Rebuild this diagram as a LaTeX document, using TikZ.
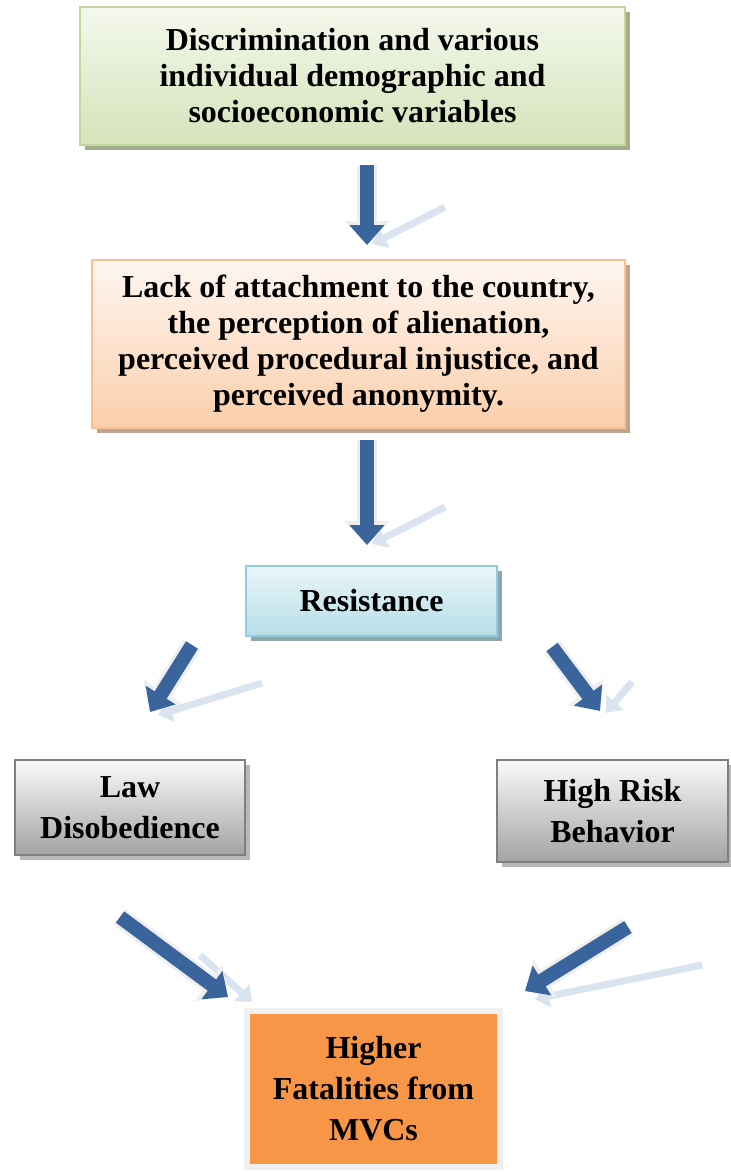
\documentclass[tikz,border=0pt]{standalone}
\usepackage{fontspec}
\setmainfont{Liberation Serif}
\usetikzlibrary{arrows.meta}
\usetikzlibrary{shadows}

\definecolor{greentop}{HTML}{F4F8EC}
\definecolor{greenbot}{HTML}{D5E3BA}
\definecolor{greenline}{HTML}{C3D69B}
\definecolor{greenshad}{HTML}{A3AD8E}
\definecolor{peachtop}{HTML}{FEF6F0}
\definecolor{peachbot}{HTML}{FBCFAB}
\definecolor{peachline}{HTML}{FAC090}
\definecolor{peachshad}{HTML}{BFA58F}
\definecolor{bluetop}{HTML}{EAF6F9}
\definecolor{bluebot}{HTML}{B5DDE7}
\definecolor{blueline}{HTML}{93CDDD}
\definecolor{blueshad}{HTML}{8FA6AD}
\definecolor{graytop}{HTML}{FAFAFA}
\definecolor{graybot}{HTML}{A3A3A3}
\definecolor{grayline}{HTML}{7F7F7F}
\definecolor{grayshad}{HTML}{B8B8B8}
\definecolor{fatorange}{HTML}{F79646}
\definecolor{fatframe}{HTML}{F0F0F0}
\definecolor{fatshad}{HTML}{C4A88E}
\definecolor{arrowblue}{HTML}{3A649C}
\definecolor{arrowglow}{HTML}{EEEEEE}
\definecolor{arrowshad}{HTML}{DAE4F1}

\begin{document}
\begin{tikzpicture}[x=0.5pt, y=-0.5pt,
	box/.style={rectangle, inner sep=0pt, align=center, line width=1pt,
		font=\bfseries\fontsize{16}{18}\selectfont},
	lowbox/.style={box, font=\bfseries\fontsize{16}{20.5}\selectfont},
	shad/.style={drop shadow={shadow xshift=2.5pt, shadow yshift=-2.5pt, fill=#1, opacity=1}},
	bluearrow/.style={draw=arrowblue, line width=7pt, -{Triangle[length=10pt,width=17pt]},
		preaction={draw=arrowglow, line width=10pt, -{Triangle[length=12pt,width=22pt]}}},
	refl/.style={draw=arrowshad, line width=3.5pt, -{Triangle[length=7pt,width=11pt]}}]
	\useasboundingbox (0,0) rectangle (731,1172);

	\node[box, minimum width=272.5pt, minimum height=69pt, draw=greenline,
		top color=greentop, bottom color=greenbot, shad=greenshad] (causes) at (352.5,76)
		{Discrimination and various\\ individual demographic and\\ socioeconomic variables};
	\node[box, minimum width=266.5pt, minimum height=84pt, draw=peachline,
		top color=peachtop, bottom color=peachbot, shad=peachshad] (attach) at (358.5,344)
		{Lack of attachment to the country,\\ the perception of alienation,\\
		perceived procedural injustice, and\\ perceived anonymity.};
	\node[lowbox, minimum width=125.5pt, minimum height=35pt, draw=blueline,
		top color=bluetop, bottom color=bluebot, shad=blueshad] (resist) at (371.5,601)
		{Resistance};
	\node[lowbox, minimum width=115pt, minimum height=47.5pt, draw=grayline,
		top color=graytop, bottom color=graybot, shad=grayshad] (law) at (130,807.5)
		{Law\\ Disobedience};
	\node[lowbox, minimum width=115.5pt, minimum height=51pt, draw=grayline,
		top color=graytop, bottom color=graybot, shad=grayshad] (risk) at (612.5,811)
		{High Risk\\ Behavior};
	\node[lowbox, minimum width=126.5pt, minimum height=78pt, draw=fatframe, line width=3pt,
		fill=fatorange, drop shadow={shadow xshift=1.5pt, shadow yshift=-1.5pt, fill=fatshad, opacity=1}]
		(fatal) at (373.5,1089) {Higher\\ Fatalities from\\ MVCs};

	% arrow ends
	\coordinate (a1s) at (367,165);  \coordinate (a1e) at (367,245);
	\coordinate (a2s) at (367,440);  \coordinate (a2e) at (367,545);
	\coordinate (a3s) at (192,645);  \coordinate (a3e) at (150,712);
	\coordinate (a4s) at (552,647);  \coordinate (a4e) at (600,711);
	\coordinate (a5s) at (120,917);  \coordinate (a5e) at (228,997);
	\coordinate (a6s) at (628,927);  \coordinate (a6e) at (525,991);
	% reflections
	\coordinate (r1s) at (445,207);  \coordinate (r1e) at (372,244);
	\coordinate (r2s) at (445,507);  \coordinate (r2e) at (372,544);
	\coordinate (r3s) at (262,683);  \coordinate (r3e) at (158,715);
	\coordinate (r4s) at (632,682);  \coordinate (r4e) at (606,713);
	\coordinate (r5s) at (200,955);  \coordinate (r5e) at (252,1002);
	\coordinate (r6s) at (702,965);  \coordinate (r6e) at (535,999);

	\foreach \k in {1,...,6} {
		\draw[refl] (r\k s) -- (r\k e);
	}
	\foreach \k in {1,...,6} {
		\draw[bluearrow] (a\k s) -- (a\k e);
	}
\end{tikzpicture}
\end{document}
